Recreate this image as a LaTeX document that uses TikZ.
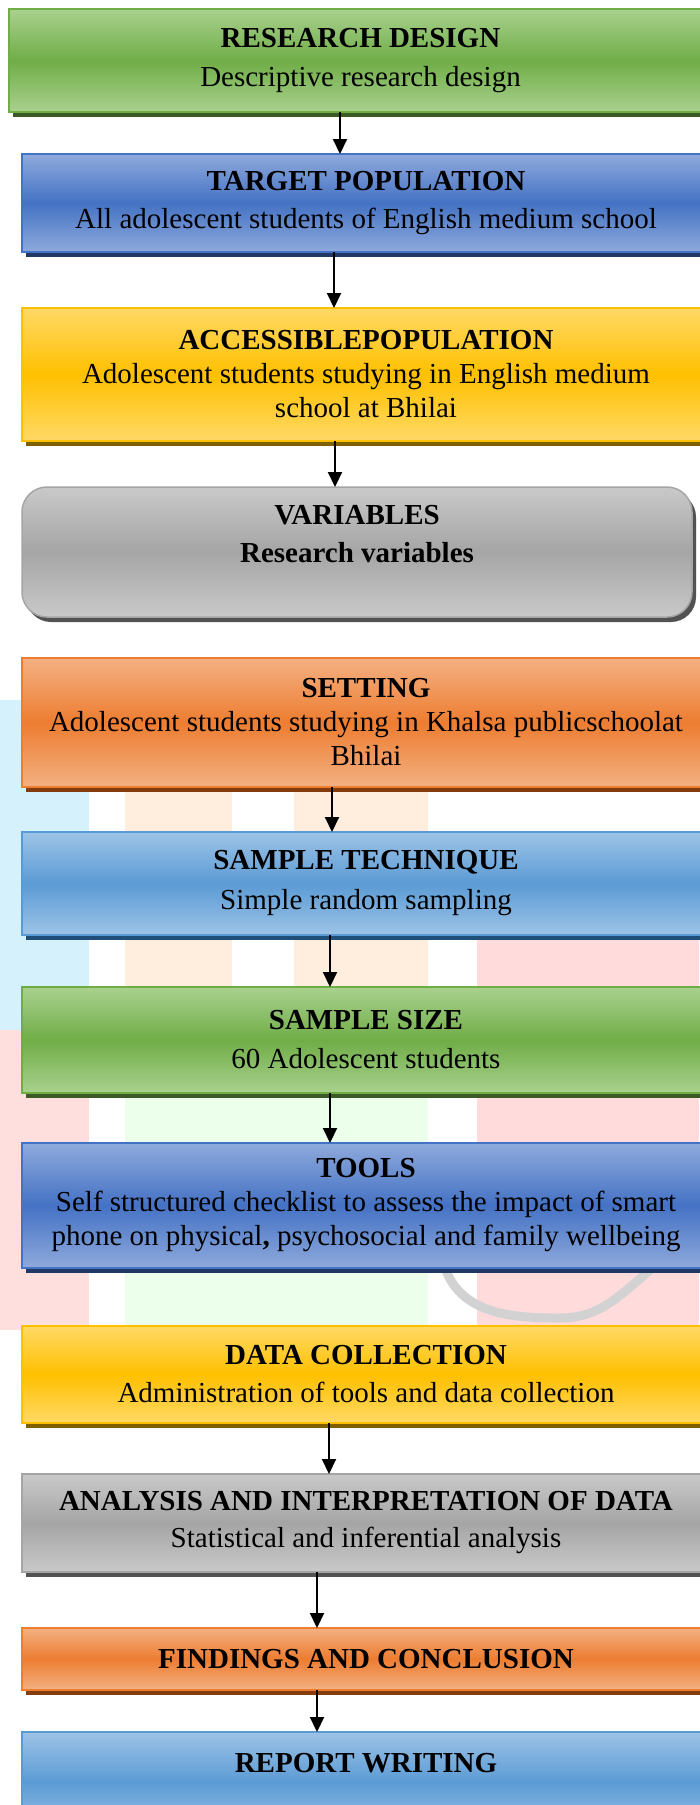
\documentclass[tikz,border=0pt]{standalone}
\usepackage{fontspec}
\setmainfont{Liberation Serif}
\usetikzlibrary{positioning,shadows,arrows.meta}

\definecolor{grnmid}{HTML}{70AD47}
\definecolor{grnlight}{HTML}{A9D18E}
\definecolor{grndark}{HTML}{3B5A25}
\definecolor{blumid}{HTML}{4472C4}
\definecolor{blulight}{HTML}{8FAADC}
\definecolor{bludark}{HTML}{203864}
\definecolor{ylwmid}{HTML}{FFC000}
\definecolor{ylwlight}{HTML}{FFD966}
\definecolor{ylwdark}{HTML}{7F6000}
\definecolor{grymid}{HTML}{A5A5A5}
\definecolor{grylight}{HTML}{C9C9C9}
\definecolor{grydark}{HTML}{525252}
\definecolor{orgmid}{HTML}{ED7D31}
\definecolor{orglight}{HTML}{F4B183}
\definecolor{orgdark}{HTML}{843C0C}
\definecolor{skymid}{HTML}{5B9BD5}
\definecolor{skylight}{HTML}{9DC3E6}
\definecolor{skydark}{HTML}{1F4E79}

\begin{document}
\begin{tikzpicture}
  [x=1pt, y=1pt,
  line/.style={draw, line width=2pt, -{Triangle[length=15pt, width=14pt]}},
  block/.style={rectangle, line width=1.5pt, minimum width=688pt, align=center,
    inner sep=0pt, outer sep=0pt, font=\fontsize{29}{34}\selectfont},
  fillbox/.style n args={3}{block, draw=#1, top color=#2, bottom color=#2, middle color=#1,
    drop shadow={shadow xshift=4pt, shadow yshift=-5pt, fill=#3, opacity=1}},
  greenbox/.style={fillbox={grnmid}{grnlight}{grndark}},
  bluebox/.style={fillbox={blumid}{blulight}{bludark}},
  yellowbox/.style={fillbox={ylwmid}{ylwlight}{ylwdark}},
  greybox/.style={fillbox={grymid}{grylight}{grydark}},
  orangebox/.style={fillbox={orgmid}{orglight}{orgdark}},
  skybox/.style={fillbox={skymid}{skylight}{skydark}}]
  \useasboundingbox (0,0) rectangle (699,-1805);
  % faint logo behind the chart
  \fill [cyan!17] (0,-700) rectangle (89,-1030);
  \fill [red!13] (0,-1030) rectangle (89,-1330);
  \fill [orange!13] (125,-790) rectangle (232,-988);
  \fill [orange!13] (294,-790) rectangle (428,-988);
  \fill [green!8] (125,-988) rectangle (428,-1330);
  \fill [red!14] (477,-940) rectangle (699,-1330);
  \draw [gray!35, line width=9pt] (445,-1268) to [out=-70, in=180] (560,-1318) to [out=0, in=-140] (650,-1270);
  % nodes
  \node [greenbox, minimum width=703pt, minimum height=103pt] (design) at (360.5,-60.5)
    {\textbf{RESEARCH DESIGN}\\[5pt]Descriptive research design};
  \node [bluebox, minimum height=98pt, below=42pt of design, xshift=5.5pt] (target)
    {\textbf{TARGET POPULATION}\\[4pt]All adolescent students of English medium school};
  \node [yellowbox, minimum height=133pt, below=56pt of target] (access)
    {\textbf{ACCESSIBLEPOPULATION}\\Adolescent students studying in English medium\\school at Bhilai};
  \node [greybox, rounded corners=25pt, minimum width=670pt, minimum height=130pt,
    below=46pt of access, xshift=-9pt] (variables)
    {\textbf{VARIABLES}\\[4pt]\textbf{Research variables}\\[2pt]};
  \node [orangebox, minimum height=129pt, below=41pt of variables, xshift=9pt] (setting)
    {\textbf{SETTING}\\Adolescent students studying in Khalsa publicschoolat\\Bhilai};
  \node [skybox, minimum height=103pt, below=45pt of setting] (technique)
    {\textbf{SAMPLE TECHNIQUE}\\[6pt]Simple random sampling};
  \node [greenbox, minimum height=106pt, below=52pt of technique] (size)
    {\textbf{SAMPLE SIZE}\\[5pt]60 Adolescent students};
  \node [bluebox, minimum height=125pt, below=50pt of size] (tools)
    {\textbf{TOOLS}\\Self structured checklist to assess the impact of smart\\phone on physical\textbf{,} psychosocial and family wellbeing};
  \node [yellowbox, minimum height=97pt, below=58pt of tools] (collection)
    {\textbf{DATA COLLECTION}\\[4pt]Administration of tools and data collection};
  \node [greybox, minimum height=98pt, below=51pt of collection] (analysis)
    {\textbf{ANALYSIS AND INTERPRETATION OF DATA}\\[3pt]Statistical and inferential analysis};
  \node [orangebox, minimum height=62pt, below=56pt of analysis] (findings)
    {\textbf{FINDINGS AND CONCLUSION}};
  \node [skybox, minimum height=100pt, below=42pt of findings] (report)
    {\textbf{REPORT WRITING}\\[4pt]\mbox{}};
  % edges
  \path [line] ([xshift=-20.5pt]design.south) -- ([xshift=-26pt]target.north);
  \path [line] ([xshift=-32pt]target.south) -- ([xshift=-32pt]access.north);
  \path [line] ([xshift=-31pt]access.south) -- ([xshift=-22pt]variables.north);
  \path [line] ([xshift=-34pt]setting.south) -- ([xshift=-34pt]technique.north);
  \path [line] ([xshift=-36pt]technique.south) -- ([xshift=-36pt]size.north);
  \path [line] ([xshift=-36pt]size.south) -- ([xshift=-36pt]tools.north);
  \path [line] ([xshift=-37pt]collection.south) -- ([xshift=-37pt]analysis.north);
  \path [line] ([xshift=-49pt]analysis.south) -- ([xshift=-49pt]findings.north);
  \path [line] ([xshift=-49pt]findings.south) -- ([xshift=-49pt]report.north);
\end{tikzpicture}
\end{document}
